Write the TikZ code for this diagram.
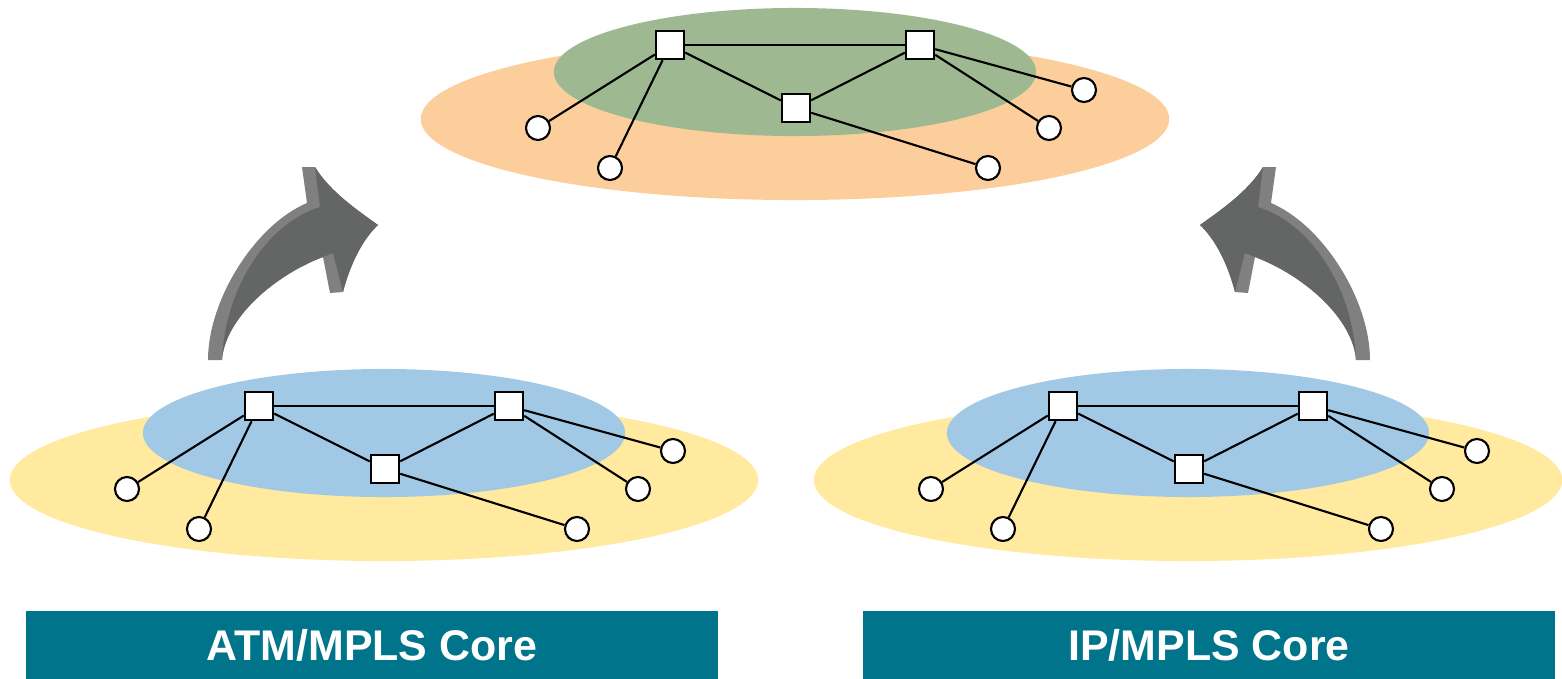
\documentclass[tikz,border=0pt]{standalone}
\usepackage{fontspec}
\usepackage{xcolor}
\usepackage{tikz}
\newfontfamily\labelfont{Liberation Sans}

\definecolor{outerorange}{RGB}{252,206,155}
\definecolor{innergreen}{RGB}{158,185,145}
\definecolor{outeryellow}{RGB}{255,234,160}
\definecolor{innerblue}{RGB}{161,200,228}
\definecolor{labelteal}{RGB}{0,116,138}
\definecolor{arrowface}{RGB}{100,102,101}
\definecolor{arrowside}{RGB}{128,128,128}

% one core: prefix, shift x, shift y, outer colour, inner colour
\newcommand{\corenet}[5]{%
  \begin{scope}[shift={(#2,#3)}]
    \fill[#4] (795,119) ellipse [x radius=3.74cm, y radius=0.81cm];
    \fill[#5] (795,72) ellipse [x radius=2.41cm, y radius=0.64cm];
    \node[router] (#1r1) at (670,45) {};
    \node[router] (#1r2) at (920,45) {};
    \node[router] (#1r3) at (796,108) {};
    \node[host] (#1h1) at (538,128) {};
    \node[host] (#1h2) at (610,168) {};
    \node[host] (#1h3) at (988,168) {};
    \node[host] (#1h4) at (1049,128) {};
    \node[host] (#1h5) at (1084,90) {};
    \draw[link] (#1r1)--(#1r2);
    \draw[link] (#1r1)--(#1r3);
    \draw[link] (#1r3)--(#1r2);
    \draw[link] (#1r1)--(#1h1);
    \draw[link] (#1r1)--(#1h2);
    \draw[link] (#1r3)--(#1h3);
    \draw[link] (#1r2)--(#1h4);
    \draw[link] (#1r2)--(#1h5);
  \end{scope}}

% curved grey arrow (pointing up and right)
\newcommand{\liftarrow}{%
  % lighter side
  \fill[arrowside] (208,360) .. controls (208,300) and (255,225) .. (307,203)
    -- (302,167) -- (315,167) .. controls (330,192) and (360,212) .. (378,225)
    .. controls (362,240) and (350,265) .. (343,292) -- (330,293) -- (323,257)
    .. controls (275,275) and (225,318) .. (222,360) -- cycle;
  % front face
  \fill[arrowface] (222,360) .. controls (225,318) and (275,275) .. (323,257)
    -- (333,253) -- (343,292) .. controls (350,265) and (362,240) .. (378,225)
    .. controls (360,212) and (330,192) .. (315,167) -- (320,207)
    .. controls (270,222) and (225,285) .. (222,360) -- cycle;}

\begin{document}
\begin{tikzpicture}[x=0.01cm, y=-0.01cm,
  router/.style={draw, line width=0.7pt, fill=white, minimum size=0.28cm, inner sep=0pt},
  host/.style={circle, draw, line width=0.6pt, fill=white, minimum size=0.24cm, inner sep=0pt},
  link/.style={line width=0.6pt},
  corelabel/.style={fill=labelteal, text=white, minimum width=6.92cm, minimum height=0.68cm,
    inner sep=0pt, font=\labelfont\bfseries\fontsize{12.2}{15}\selectfont}]
\useasboundingbox (0,0) rectangle (1562,678);

\corenet{t}{0}{0}{outerorange}{innergreen}
\corenet{a}{-411}{361}{outeryellow}{innerblue}
\corenet{i}{393}{361}{outeryellow}{innerblue}

\liftarrow
\begin{scope}[shift={(1578,0)}, xscale=-1]
  \liftarrow
\end{scope}

\node[corelabel] (atmlabel) at (372,645) {ATM/MPLS Core};
\node[corelabel] (iplabel) at (1209,645) {IP/MPLS Core};
\end{tikzpicture}
\end{document}
